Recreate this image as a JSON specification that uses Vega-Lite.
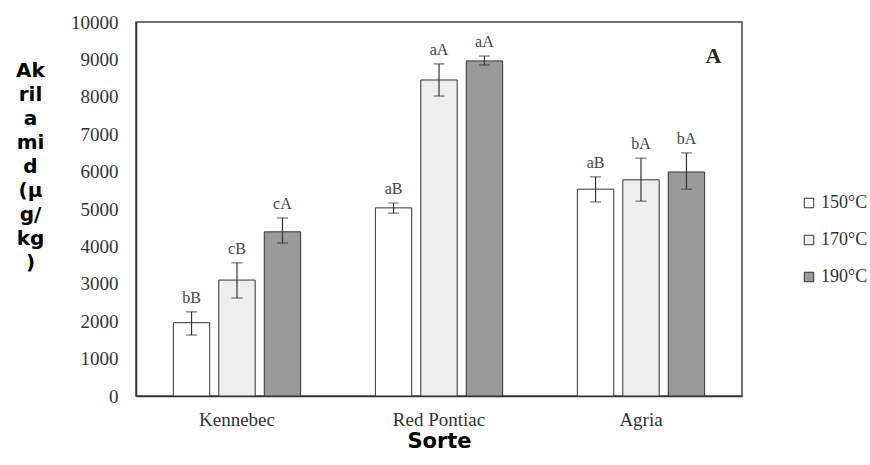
{
  "$schema": "https://vega.github.io/schema/vega-lite/v6.json",
  "autosize": "none",
  "width": 606,
  "height": 374,
  "padding": {"left": 136, "top": 22, "right": 128, "bottom": 69},
  "background": "white",
  "config": {
    "view": {"stroke": "#444", "strokeWidth": 1.5},
    "font": "Liberation Serif",
    "axisY": {"labelOverlap": false}
  },
  "resolve": {"axis": {"y": "independent"}},
  "data": {
    "values": [
      {"variety": "Kennebec", "temp": "150°C", "mean": 1960, "lo": 1630, "hi": 2250, "label": "bB"},
      {"variety": "Kennebec", "temp": "170°C", "mean": 3100, "lo": 2620, "hi": 3560, "label": "cB"},
      {"variety": "Kennebec", "temp": "190°C", "mean": 4390, "lo": 4090, "hi": 4760, "label": "cA"},
      {"variety": "Red Pontiac", "temp": "150°C", "mean": 5030, "lo": 4890, "hi": 5160, "label": "aB"},
      {"variety": "Red Pontiac", "temp": "170°C", "mean": 8450, "lo": 8020, "hi": 8880, "label": "aA"},
      {"variety": "Red Pontiac", "temp": "190°C", "mean": 8960, "lo": 8850, "hi": 9090, "label": "aA"},
      {"variety": "Agria", "temp": "150°C", "mean": 5530, "lo": 5190, "hi": 5860, "label": "aB"},
      {"variety": "Agria", "temp": "170°C", "mean": 5780, "lo": 5210, "hi": 6360, "label": "bA"},
      {"variety": "Agria", "temp": "190°C", "mean": 5990, "lo": 5530, "hi": 6500, "label": "bA"}
    ]
  },
  "encoding": {
    "x": {
      "field": "variety", "type": "nominal",
      "sort": ["Kennebec", "Red Pontiac", "Agria"],
      "scale": {"paddingInner": 0.37, "paddingOuter": 0.185},
      "axis": {
        "title": "Sorte",
        "titleFont": "DejaVu Sans", "titleFontWeight": "bold", "titleFontSize": 21, "titleColor": "#000",
        "titleBaseline": "middle", "titleY": 45,
        "labelAngle": 0, "labelFont": "Liberation Serif", "labelFontSize": 19, "labelColor": "#333",
        "labelPadding": 14, "ticks": false, "domainColor": "#333", "domainWidth": 1.5
      }
    },
    "xOffset": {
      "field": "temp", "type": "nominal",
      "sort": ["150°C", "170°C", "190°C"],
      "scale": {"paddingInner": 0.2, "paddingOuter": 0}
    }
  },
  "layer": [
    {
      "mark": {"type": "bar", "stroke": "#333", "strokeWidth": 1},
      "encoding": {
        "y": {
          "field": "mean", "type": "quantitative",
          "scale": {"domain": [0, 10000]},
          "axis": {
            "values": [0, 1000, 2000, 3000, 4000, 5000, 6000, 7000, 8000, 9000, 10000],
            "format": "d", "labelOverlap": false,
            "grid": false, "ticks": false,
            "labelFont": "Liberation Serif", "labelFontSize": 19, "labelColor": "#333", "labelPadding": 18,
            "domainColor": "#333", "domainWidth": 1.5,
            "title": ["Ak", "ril", "a", "mi", "d", "(μ", "g/", "kg", ")"],
            "titleFont": "DejaVu Sans", "titleFontWeight": "bold", "titleFontSize": 20, "titleColor": "#000",
            "titleAngle": 0, "titleAlign": "center", "titleBaseline": "middle",
            "titleX": -106, "titleY": 48, "titleLineHeight": 24
          }
        },
        "fill": {
          "field": "temp", "type": "nominal",
          "sort": ["150°C", "170°C", "190°C"],
          "scale": {"domain": ["150°C", "170°C", "190°C"], "range": ["#ffffff", "#eeeeee", "#9a9a9a"]},
          "legend": {
            "title": null, "orient": "none", "legendX": 664, "legendY": 172,
            "symbolType": "square", "symbolSize": 90, "symbolStrokeColor": "#333", "symbolStrokeWidth": 1,
            "labelFont": "Liberation Serif", "labelFontSize": 18, "labelColor": "#333",
            "rowPadding": 19, "labelOffset": 3
          }
        }
      }
    },
    {
      "mark": {"type": "rule", "color": "#333", "strokeWidth": 1.2},
      "encoding": {
        "y": {"field": "lo", "type": "quantitative", "axis": null},
        "y2": {"field": "hi"}
      }
    },
    {
      "mark": {"type": "tick", "color": "#333", "thickness": 1.2, "size": 11, "orient": "horizontal"},
      "encoding": {"y": {"field": "lo", "type": "quantitative", "axis": null}}
    },
    {
      "mark": {"type": "tick", "color": "#333", "thickness": 1.2, "size": 11, "orient": "horizontal"},
      "encoding": {"y": {"field": "hi", "type": "quantitative", "axis": null}}
    },
    {
      "mark": {"type": "text", "font": "Liberation Serif", "fontSize": 16, "color": "#444", "baseline": "bottom", "dy": -6},
      "encoding": {
        "y": {"field": "hi", "type": "quantitative", "axis": null},
        "text": {"field": "label"}
      }
    },
    {
      "data": {"values": [{"variety": "Agria", "temp": "190°C", "panel": "A", "pos": 9090}]},
      "mark": {"type": "text", "font": "Liberation Serif", "fontSize": 22, "fontWeight": "bold", "color": "#222", "dx": 27, "baseline": "middle"},
      "encoding": {
        "y": {"field": "pos", "type": "quantitative", "axis": null},
        "text": {"field": "panel"}
      }
    }
  ]
}
